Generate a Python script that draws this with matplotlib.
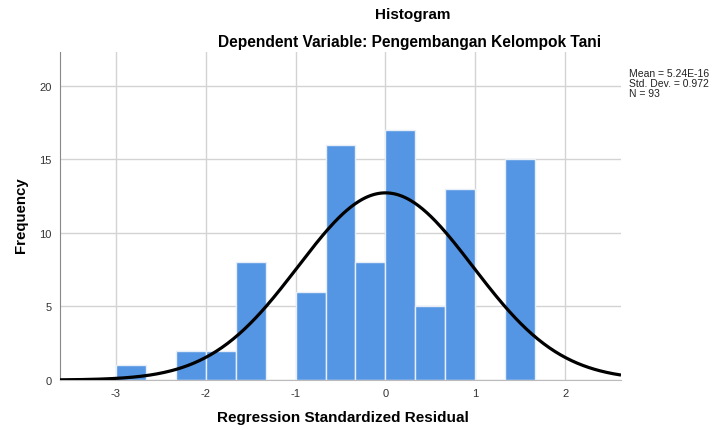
import numpy as np
import matplotlib
matplotlib.use("Agg")
import matplotlib.pyplot as plt

plt.rcParams['font.family'] = ['Liberation Sans', 'DejaVu Sans']
plt.rcParams['axes.unicode_minus'] = False

bin_edges = [-3, -8/3, -7/3, -2, -5/3, -4/3, -1, -2/3, -1/3, 0, 1/3, 2/3, 1, 4/3, 5/3]
counts = [1, 0, 2, 2, 8, 0, 6, 16, 8, 17, 5, 13, 0, 15]
mean, sd, n = 5.24e-16, 0.972, 93
x_ticks = [-3, -2, -1, 0, 1, 2]
y_ticks = [0, 5, 10, 15, 20]

fig = plt.figure(figsize=(7.16, 4.31), dpi=100)
ax = fig.add_axes([60/716, 1-381/431, (621-60)/716, (381-53)/431])

edges = np.array(bin_edges)
widths = np.diff(edges)
ax.bar(edges[:-1], counts, width=widths, align='edge', color='#5596E4',
       edgecolor='#E8EEF8', linewidth=1.0, zorder=2)

xs = np.linspace(-3.62, 2.62, 400)
bw = widths.mean()
ys = n * bw / (sd * np.sqrt(2*np.pi)) * np.exp(-0.5*((xs-mean)/sd)**2)
ax.plot(xs, ys, color='black', lw=2.3, zorder=3, solid_capstyle='butt')

ax.set_xlim(-3.62, 2.62)
ax.set_ylim(0, 22.3)
ax.set_xticks(x_ticks)
ax.set_yticks(y_ticks)
ax.grid(True, color='#D3D3D3', lw=1.0, zorder=0)
ax.set_axisbelow(True)
ax.tick_params(length=0, labelsize=8, colors='#333333', pad=6)
for s in ['top', 'right']:
    ax.spines[s].set_visible(False)
ax.spines['left'].set_color('#888888')
ax.spines['bottom'].set_color('#BBBBBB')

ax.set_xlabel('Regression Standardized Residual', fontsize=11, fontweight='bold')
ax.set_ylabel('Frequency', fontsize=10.8, fontweight='bold')
ax.xaxis.set_label_coords((343-60)/561, (381-418)/328)
ax.yaxis.set_label_coords((21-60)/561, (381-215)/328)
ax.xaxis.label.set_va('center')
ax.yaxis.label.set_va('center')

fig.text(413/716, 1-15/431, 'Histogram', ha='center', va='center', fontsize=11, fontweight='bold')
fig.text(410/716, 1-42/431, 'Dependent Variable: Pengembangan Kelompok Tani', ha='center', va='center',
         fontsize=11.2, fontweight='bold')
fig.text(629/716, 1-69/431, f'Mean = 5.24E-16\nStd. Dev. = {sd}\nN = {n}', ha='left', va='top',
         fontsize=7.5, color='#222222', linespacing=1.0)

fig.savefig('out.png', dpi=100)
